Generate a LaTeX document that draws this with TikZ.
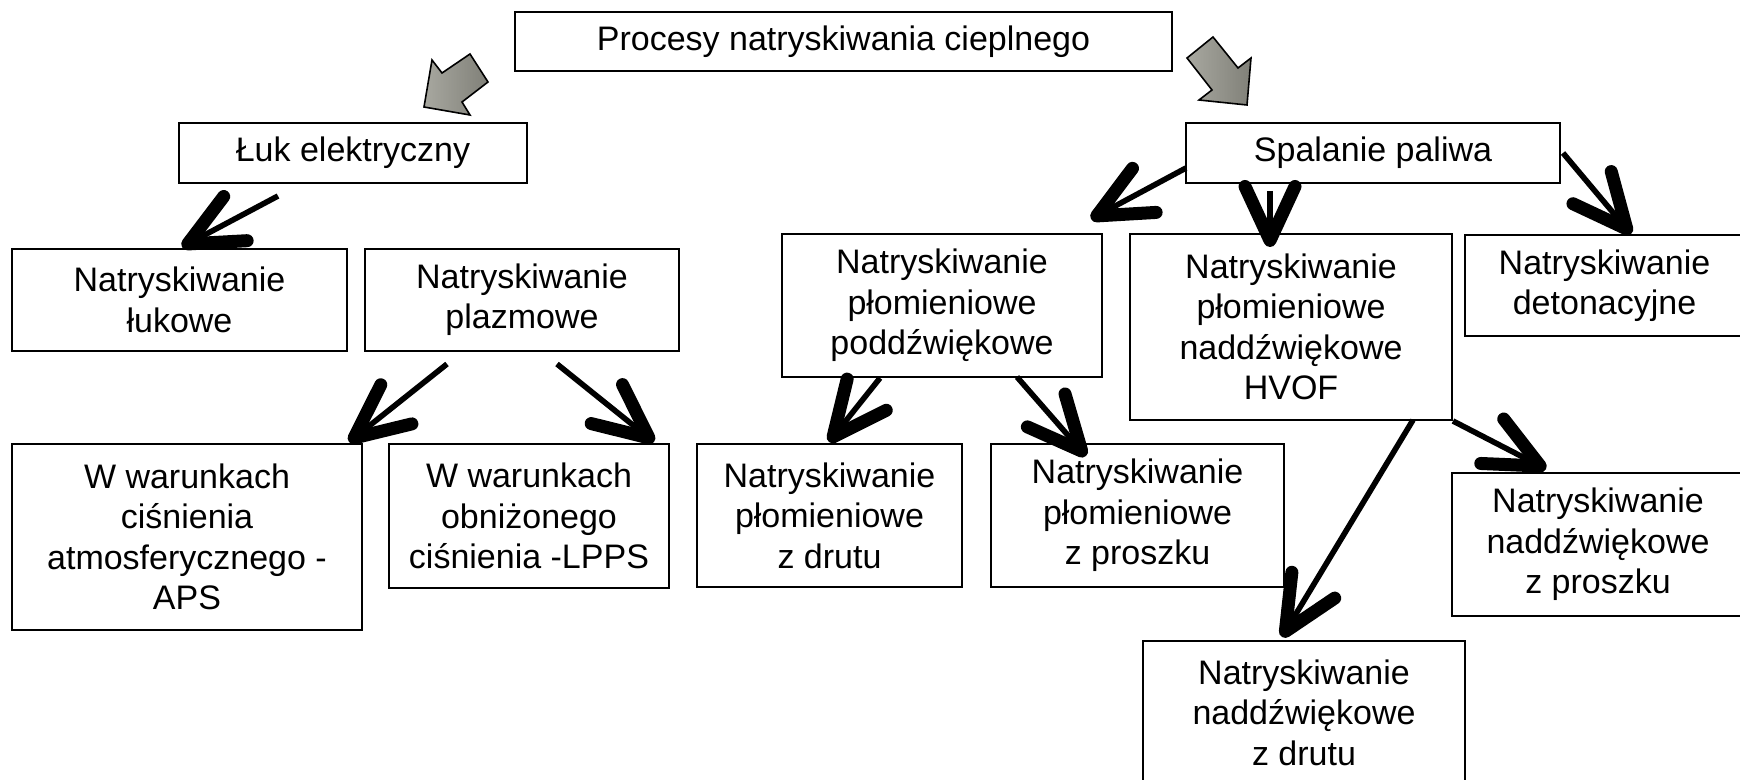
\documentclass[tikz,border=0pt]{standalone}
\usepackage{fontspec}
\setmainfont{Liberation Sans}
\usetikzlibrary{arrows.meta}
\definecolor{szaryjasny}{RGB}{168,168,160}
\definecolor{szaryciemny}{RGB}{128,128,120}
\tikzset{
  blok/.style={draw, line width=1pt, align=center, inner sep=0pt,
    font=\fontsize{17}{20.2}\selectfont},
  strzalka/.style={line width=2.8pt,
    -{Straight Barb[length=27pt, width=25pt, line width=6.5pt, round]}},
  szara/.style={draw=black, line width=0.8pt, line join=miter,
    left color=szaryjasny, right color=szaryciemny}
}

\begin{document}
\begin{tikzpicture}[x=0.5pt, y=-0.5pt]
\useasboundingbox (0,0) rectangle (1740,780);
\clip (0,0) rectangle (1740,780);

\node[blok, minimum width=328.5pt, minimum height=29.5pt] (proc) at (843.5,41.5) {Procesy natryskiwania cieplnego};
\node[blok, minimum width=174pt, minimum height=30pt] (luk) at (353,153) {Łuk elektryczny};
\node[blok, minimum width=187pt, minimum height=30pt] (spal) at (1373,153) {Spalanie paliwa};

\node[blok, minimum width=167.5pt, minimum height=51pt] (lukowe) at (179.5,300) {Natryskiwanie\\łukowe};
\node[blok, minimum width=157pt, minimum height=51pt] (plazm) at (522,300) {Natryskiwanie\\plazmowe};
\node[blok, minimum width=160pt, minimum height=71.5pt] (podd) at (942,305.5) {Natryskiwanie\\płomieniowe\\poddźwiękowe};
\node[blok, minimum width=161pt, minimum height=93pt] (hvof) at (1291,327) {Natryskiwanie\\płomieniowe\\naddźwiękowe\\HVOF};
\node[blok, minimum width=139.5pt, minimum height=50.5pt] (deton) at (1604.5,285.5) {Natryskiwanie\\detonacyjne};

\node[blok, minimum width=175pt, minimum height=93pt] (aps) at (187,537) {W warunkach\\ciśnienia\\atmosferycznego -\\APS};
\node[blok, minimum width=140pt, minimum height=72pt] (lpps) at (529,516) {W warunkach\\obniżonego\\ciśnienia -LPPS};
\node[blok, minimum width=132.5pt, minimum height=71.5pt] (pldrut) at (829.5,515.5) {Natryskiwanie\\płomieniowe\\z drutu};
\node[blok, minimum width=146.5pt, minimum height=71.5pt] (plprosz) at (1137.5,515.5) {Natryskiwanie\\płomieniowe\\z proszku};
\node[blok, minimum width=146pt, minimum height=71.5pt] (nadprosz) at (1598,544.5) {Natryskiwanie\\naddźwiękowe\\z proszku};
\node[blok, minimum width=161pt, minimum height=71.5pt] (naddrut) at (1304,712.5) {Natryskiwanie\\naddźwiękowe\\z drutu};

\filldraw[szara] (424,107) -- (432,60) -- (442,73) -- (470,54) -- (488,82) -- (462,102) -- (470,115) -- cycle;
\filldraw[szara] (1187,58) -- (1213,37) -- (1238,68) -- (1251,58) -- (1247,105) -- (1199,100) -- (1212,90) -- cycle;

\draw[strzalka] ([shift={(-75,12)}]luk.south) -- ([shift={(2.5,-1)}]lukowe.north);
\draw[strzalka] ([shift={(-75,12)}]plazm.south) -- ([shift={(-14,-1)}]aps.north east);
\draw[strzalka] ([shift={(35,12)}]plazm.south) -- ([shift={(-16,-1)}]lpps.north east);
\draw[strzalka] ([shift={(1,15)}]spal.west) -- ([shift={(-12,-14)}]podd.north east);
\draw[strzalka] ([shift={(-103,7)}]spal.south) -- ([shift={(-21,14)}]hvof.north);
\draw[strzalka] ([shift={(2,0)}]spal.east) -- ([shift={(167,0)}]deton.north west);
\draw[strzalka] ([shift={(-62,0)}]podd.south) -- ([shift={(133,-1)}]pldrut.north west);
\draw[strzalka] ([shift={(75,-1)}]podd.south) -- ([shift={(96,13)}]plprosz.north west);
\draw[strzalka] ([shift={(-40,-1)}]hvof.south east) -- ([shift={(140,-3)}]naddrut.north west);
\draw[strzalka] (hvof.south east) -- ([shift={(95,-3)}]nadprosz.north west);
\end{tikzpicture}
\end{document}
